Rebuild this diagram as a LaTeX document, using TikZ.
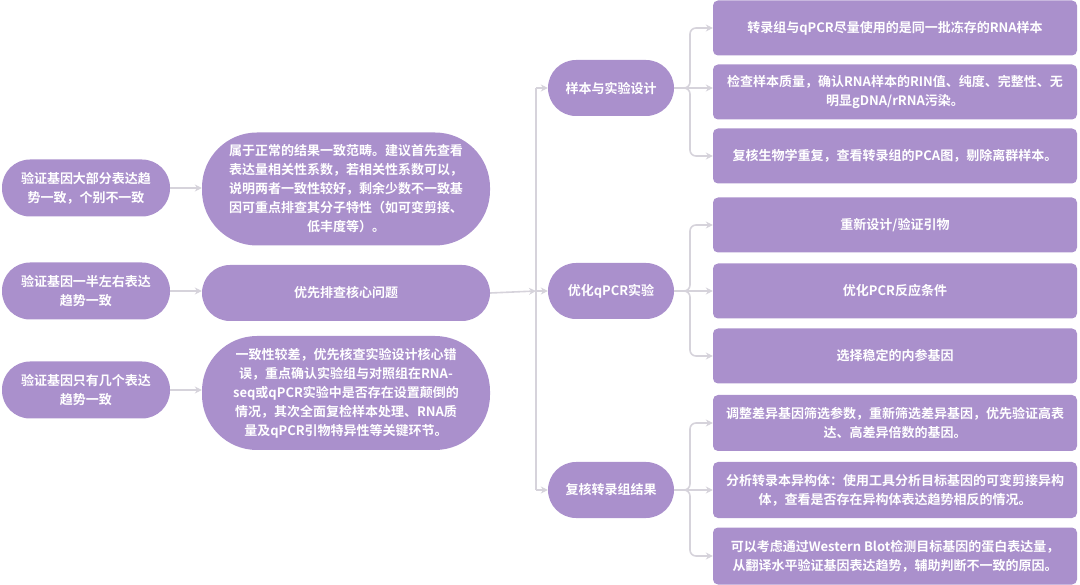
\documentclass[tikz,border=0pt]{standalone}
\usepackage{fontspec}
\setmainfont{Noto Sans CJK SC}[BoldFont={* Bold}]
\usetikzlibrary{arrows.meta}
\definecolor{pfill}{HTML}{AA90CC}
\definecolor{lin}{HTML}{D6D3DB}
\begin{document}
\begin{tikzpicture}[x=1pt,y=-1pt,
  base/.style={fill=pfill,draw=none,text=white,font=\bfseries\fontsize{13}{19}\selectfont,align=center,inner sep=0pt},
  pill/.style={base,rounded corners=28pt},
  box/.style={base,rounded corners=5pt},
  con/.style={draw=lin,line width=1.6pt,-{Stealth[length=7pt,width=7pt]}},
  lnk/.style={draw=lin,line width=1.6pt,rounded corners=6pt}]
\useasboundingbox (0,0) rectangle (1080,585);
% left
\node[pill,minimum width=168pt,minimum height=57pt] (l1) at (86,188) {验证基因大部分表达趋\\势一致，个别不一致};
\node[pill,minimum width=168pt,minimum height=57pt] (l2) at (86,291) {验证基因一半左右表达\\趋势一致};
\node[pill,minimum width=168pt,minimum height=57pt] (l3) at (86,390) {验证基因只有几个表达\\趋势一致};
% middle
\node[pill,rounded corners=55pt,minimum width=288pt,minimum height=113pt] (m1) at (346,189) {属于正常的结果一致范畴。建议首先查看\\表达量相关性系数，若相关性系数可以，\\说明两者一致性较好，剩余少数不一致基\\因可重点排查其分子特性（如可变剪接、\\低丰度等）。};
\node[pill,minimum width=288pt,minimum height=56pt] (m2) at (346,293) {优先排查核心问题};
\node[pill,rounded corners=55pt,minimum width=288pt,minimum height=114pt] (m3) at (346,393) {一致性较差，优先核查实验设计核心错\\误，重点确认实验组与对照组在RNA-\\seq或qPCR实验中是否存在设置颠倒的\\情况，其次全面复检样本处理、RNA质\\量及qPCR引物特异性等关键环节。};
% mid-right
\node[pill,minimum width=126pt,minimum height=56pt] (r1) at (611,88) {样本与实验设计};
\node[pill,minimum width=126pt,minimum height=56pt] (r2) at (611,291) {优化qPCR实验};
\node[pill,minimum width=126pt,minimum height=56pt] (r3) at (611,490) {复核转录组结果};
% right boxes
\tikzset{rb/.style={box,minimum width=364pt}}
\node[rb,minimum height=55pt] (a1) at (895,28) {转录组与qPCR尽量使用的是同一批冻存的RNA样本};
\node[rb,minimum height=55pt] (a2) at (895,92) {检查样本质量，确认RNA样本的RIN值、纯度、完整性、无\\明显gDNA/rRNA污染。};
\node[rb,minimum height=55pt] (a3) at (895,156) {复核生物学重复，查看转录组的PCA图，剔除离群样本。};
\node[rb,minimum height=55pt] (b1) at (895,225) {重新设计/验证引物};
\node[rb,minimum height=55pt] (b2) at (895,291) {优化PCR反应条件};
\node[rb,minimum height=55pt] (b3) at (895,356) {选择稳定的内参基因};
\node[rb,minimum height=56pt] (c1) at (895,423) {调整差异基因筛选参数，重新筛选差异基因，优先验证高表\\达、高差异倍数的基因。};
\node[rb,minimum height=56pt] (c2) at (895,490) {分析转录本异构体：使用工具分析目标基因的可变剪接异构\\体，查看是否存在异构体表达趋势相反的情况。};
\node[rb,minimum height=57pt] (c3) at (895,556) {可以考虑通过Western Blot检测目标基因的蛋白表达量，\\从翻译水平验证基因表达趋势，辅助判断不一致的原因。};
% connectors left->middle
\draw[con] (l1.east) -- (m1.west|-l1.east);
\draw[con] (l2.east) -- (m2.west|-l2.east);
\draw[con] (l3.east) -- (m3.west|-l3.east);
% bus
\coordinate (bus) at (536,291);
\draw[con] (m2.east) -- (bus);
\draw[lnk] (536,88) -- (536,490);
\draw[con] (536,88) -- (r1.west);
\draw[con] (536,291) -- (r2.west);
\draw[con] (536,490) -- (r3.west);
% forks
\foreach \p/\a/\b/\c in {r1/a1/a2/a3,r2/b1/b2/b3,r3/c1/c2/c3}{
  \draw[con,rounded corners=6pt] (\p.east) -| (690,0 |- \a.west) -- (\a.west);
  \draw[con] (\p.east) -- (\b.west|-\p.east);
  \draw[con,rounded corners=6pt] (\p.east) -| (690,0 |- \c.west) -- (\c.west);
}
\end{tikzpicture}
\end{document}
